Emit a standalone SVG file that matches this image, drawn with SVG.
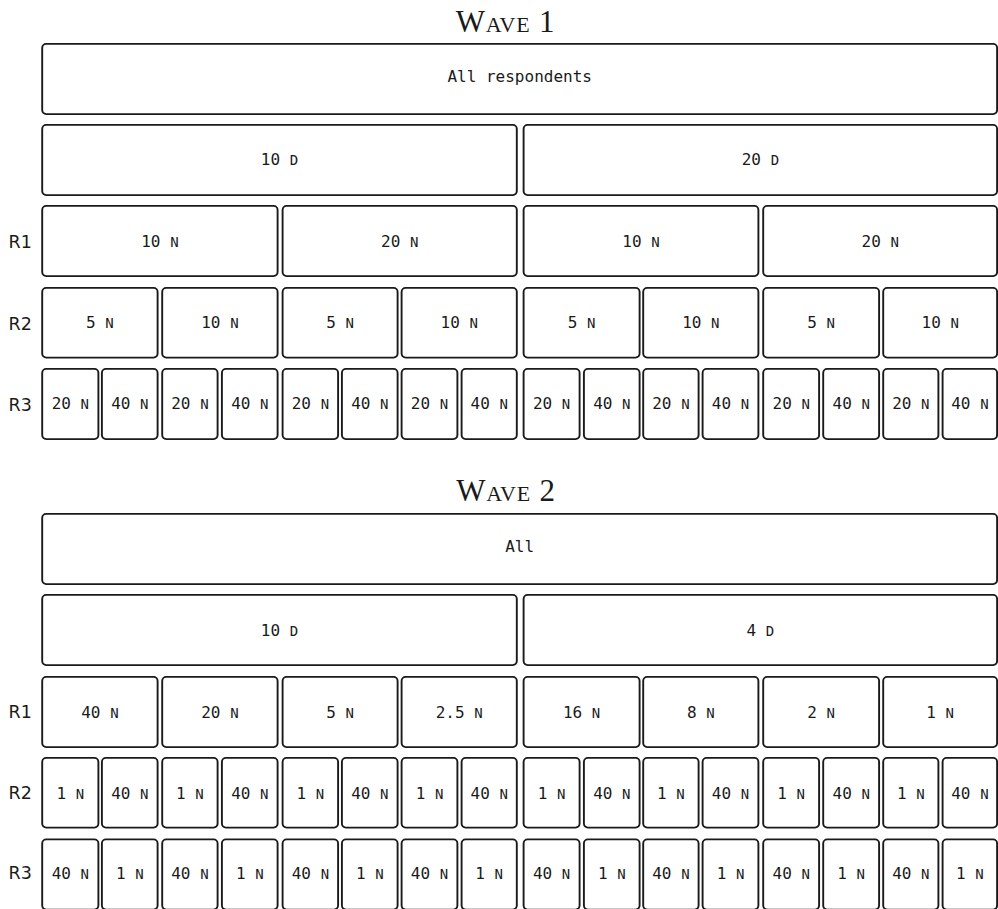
<svg xmlns="http://www.w3.org/2000/svg" width="998" height="909" viewBox="0 0 998 909">
<style>
  .bg { fill: #ffffff; }
  .node rect { fill: #ffffff; stroke: #1a1a1a; stroke-width: 1.9; }
  .node text { font-family: "DejaVu Sans Mono", "Liberation Mono", monospace; font-size: 16px; fill: #1a1a1a; text-anchor: middle; }
  .sc { font-size: 14px; }
  .row { font-family: "DejaVu Sans", "Liberation Sans", sans-serif; font-size: 17.5px; fill: #1a1a1a; }
  .title { font-family: "Liberation Serif", "DejaVu Serif", serif; font-size: 31px; font-variant: small-caps; letter-spacing: 0.8px; fill: #1a1a1a; text-anchor: middle; }
</style>
<rect class="bg" x="0" y="0" width="998" height="909"/>

<g id="titles">
  <text class="title" x="505.5" y="31.5">Wave 1</text>
  <text class="title" x="506" y="500.5">Wave 2</text>
</g>

<g id="row-labels">
  <text class="row" x="8.5" y="248.3">R1</text>
  <text class="row" x="8.5" y="329.5">R2</text>
  <text class="row" x="8.5" y="410.7">R3</text>
  <text class="row" x="8.5" y="718.3">R1</text>
  <text class="row" x="8.5" y="799">R2</text>
  <text class="row" x="8.5" y="878.7">R3</text>
</g>

<!-- ===== WAVE 1 ===== -->
<g id="w1-all" class="node"><rect x="42.2" y="43.9" width="954.9" height="70.2" rx="4"/><text x="519.7" y="82">All respondents</text></g>

<g id="w1-b0" class="node"><rect x="42.2" y="124.9" width="474.6" height="70.2" rx="4"/><text x="279.5" y="164.5">10 <tspan class="sc">D</tspan></text></g>
<g id="w1-b1" class="node"><rect x="523.6" y="124.9" width="473.5" height="70.2" rx="4"/><text x="760.4" y="164.5">20 <tspan class="sc">D</tspan></text></g>

<g id="w1-r1-0" class="node"><rect x="42.2" y="205.9" width="235.4" height="70.2" rx="4"/><text x="159.9" y="246.5">10 <tspan class="sc">N</tspan></text></g>
<g id="w1-r1-1" class="node"><rect x="282.6" y="205.9" width="234.2" height="70.2" rx="4"/><text x="399.7" y="246.5">20 <tspan class="sc">N</tspan></text></g>
<g id="w1-r1-2" class="node"><rect x="523.6" y="205.9" width="234.8" height="70.2" rx="4"/><text x="641" y="246.5">10 <tspan class="sc">N</tspan></text></g>
<g id="w1-r1-3" class="node"><rect x="763.2" y="205.9" width="233.9" height="70.2" rx="4"/><text x="880.2" y="246.5">20 <tspan class="sc">N</tspan></text></g>

<g id="w1-r2-0" class="node"><rect x="42.2" y="287.9" width="115.4" height="69.7" rx="4"/><text x="99.9" y="328.2">5 <tspan class="sc">N</tspan></text></g>
<g id="w1-r2-1" class="node"><rect x="162.2" y="287.9" width="115.4" height="69.7" rx="4"/><text x="219.9" y="328.2">10 <tspan class="sc">N</tspan></text></g>
<g id="w1-r2-2" class="node"><rect x="282.6" y="287.9" width="115" height="69.7" rx="4"/><text x="340.1" y="328.2">5 <tspan class="sc">N</tspan></text></g>
<g id="w1-r2-3" class="node"><rect x="401.6" y="287.9" width="115.2" height="69.7" rx="4"/><text x="459.2" y="328.2">10 <tspan class="sc">N</tspan></text></g>
<g id="w1-r2-4" class="node"><rect x="523.6" y="287.9" width="116" height="69.7" rx="4"/><text x="581.6" y="328.2">5 <tspan class="sc">N</tspan></text></g>
<g id="w1-r2-5" class="node"><rect x="643.2" y="287.9" width="115.2" height="69.7" rx="4"/><text x="700.8" y="328.2">10 <tspan class="sc">N</tspan></text></g>
<g id="w1-r2-6" class="node"><rect x="763.2" y="287.9" width="115.9" height="69.7" rx="4"/><text x="821.2" y="328.2">5 <tspan class="sc">N</tspan></text></g>
<g id="w1-r2-7" class="node"><rect x="883.2" y="287.9" width="113.9" height="69.7" rx="4"/><text x="940.2" y="328.2">10 <tspan class="sc">N</tspan></text></g>

<g id="w1-r3-0" class="node"><rect x="42.2" y="368.9" width="56.2" height="70.2" rx="4"/><text x="70.3" y="408.8">20 <tspan class="sc">N</tspan></text></g>
<g id="w1-r3-1" class="node"><rect x="101.9" y="368.9" width="55.7" height="70.2" rx="4"/><text x="129.8" y="408.8">40 <tspan class="sc">N</tspan></text></g>
<g id="w1-r3-2" class="node"><rect x="162.2" y="368.9" width="55.4" height="70.2" rx="4"/><text x="189.9" y="408.8">20 <tspan class="sc">N</tspan></text></g>
<g id="w1-r3-3" class="node"><rect x="221.9" y="368.9" width="55.7" height="70.2" rx="4"/><text x="249.8" y="408.8">40 <tspan class="sc">N</tspan></text></g>
<g id="w1-r3-4" class="node"><rect x="282.6" y="368.9" width="55.5" height="70.2" rx="4"/><text x="310.4" y="408.8">20 <tspan class="sc">N</tspan></text></g>
<g id="w1-r3-5" class="node"><rect x="341.9" y="368.9" width="55.7" height="70.2" rx="4"/><text x="369.8" y="408.8">40 <tspan class="sc">N</tspan></text></g>
<g id="w1-r3-6" class="node"><rect x="401.6" y="368.9" width="55.8" height="70.2" rx="4"/><text x="429.5" y="408.8">20 <tspan class="sc">N</tspan></text></g>
<g id="w1-r3-7" class="node"><rect x="461.6" y="368.9" width="55.2" height="70.2" rx="4"/><text x="489.2" y="408.8">40 <tspan class="sc">N</tspan></text></g>
<g id="w1-r3-8" class="node"><rect x="523.6" y="368.9" width="56" height="70.2" rx="4"/><text x="551.6" y="408.8">20 <tspan class="sc">N</tspan></text></g>
<g id="w1-r3-9" class="node"><rect x="583.9" y="368.9" width="55.7" height="70.2" rx="4"/><text x="611.8" y="408.8">40 <tspan class="sc">N</tspan></text></g>
<g id="w1-r3-10" class="node"><rect x="643.2" y="368.9" width="55.4" height="70.2" rx="4"/><text x="670.9" y="408.8">20 <tspan class="sc">N</tspan></text></g>
<g id="w1-r3-11" class="node"><rect x="702.6" y="368.9" width="55.8" height="70.2" rx="4"/><text x="730.5" y="408.8">40 <tspan class="sc">N</tspan></text></g>
<g id="w1-r3-12" class="node"><rect x="763.2" y="368.9" width="55.9" height="70.2" rx="4"/><text x="791.2" y="408.8">20 <tspan class="sc">N</tspan></text></g>
<g id="w1-r3-13" class="node"><rect x="823.2" y="368.9" width="55.9" height="70.2" rx="4"/><text x="851.2" y="408.8">40 <tspan class="sc">N</tspan></text></g>
<g id="w1-r3-14" class="node"><rect x="883.2" y="368.9" width="55.2" height="70.2" rx="4"/><text x="910.8" y="408.8">20 <tspan class="sc">N</tspan></text></g>
<g id="w1-r3-15" class="node"><rect x="942.6" y="368.9" width="54.5" height="70.2" rx="4"/><text x="969.9" y="408.8">40 <tspan class="sc">N</tspan></text></g>

<!-- ===== WAVE 2 ===== -->
<g id="w2-all" class="node"><rect x="42.2" y="513.9" width="954.9" height="70.2" rx="4"/><text x="519.7" y="552">All</text></g>

<g id="w2-b0" class="node"><rect x="42.2" y="594.9" width="474.6" height="70.2" rx="4"/><text x="279.5" y="635.5">10 <tspan class="sc">D</tspan></text></g>
<g id="w2-b1" class="node"><rect x="523.6" y="594.9" width="473.5" height="70.2" rx="4"/><text x="760.4" y="635.5">4 <tspan class="sc">D</tspan></text></g>

<g id="w2-r1-0" class="node"><rect x="42.2" y="676.9" width="115.4" height="70.2" rx="4"/><text x="99.9" y="717.5">40 <tspan class="sc">N</tspan></text></g>
<g id="w2-r1-1" class="node"><rect x="162.2" y="676.9" width="115.4" height="70.2" rx="4"/><text x="219.9" y="717.5">20 <tspan class="sc">N</tspan></text></g>
<g id="w2-r1-2" class="node"><rect x="282.6" y="676.9" width="115" height="70.2" rx="4"/><text x="340.1" y="717.5">5 <tspan class="sc">N</tspan></text></g>
<g id="w2-r1-3" class="node"><rect x="401.6" y="676.9" width="115.2" height="70.2" rx="4"/><text x="459.2" y="717.5">2.5 <tspan class="sc">N</tspan></text></g>
<g id="w2-r1-4" class="node"><rect x="523.6" y="676.9" width="116" height="70.2" rx="4"/><text x="581.6" y="717.5">16 <tspan class="sc">N</tspan></text></g>
<g id="w2-r1-5" class="node"><rect x="643.2" y="676.9" width="115.2" height="70.2" rx="4"/><text x="700.8" y="717.5">8 <tspan class="sc">N</tspan></text></g>
<g id="w2-r1-6" class="node"><rect x="763.2" y="676.9" width="115.9" height="70.2" rx="4"/><text x="821.2" y="717.5">2 <tspan class="sc">N</tspan></text></g>
<g id="w2-r1-7" class="node"><rect x="883.2" y="676.9" width="113.9" height="70.2" rx="4"/><text x="940.2" y="717.5">1 <tspan class="sc">N</tspan></text></g>

<g id="w2-r2-0" class="node"><rect x="42.2" y="757.9" width="56.2" height="69.7" rx="4"/><text x="70.3" y="798.5">1 <tspan class="sc">N</tspan></text></g>
<g id="w2-r2-1" class="node"><rect x="101.9" y="757.9" width="55.7" height="69.7" rx="4"/><text x="129.8" y="798.5">40 <tspan class="sc">N</tspan></text></g>
<g id="w2-r2-2" class="node"><rect x="162.2" y="757.9" width="55.4" height="69.7" rx="4"/><text x="189.9" y="798.5">1 <tspan class="sc">N</tspan></text></g>
<g id="w2-r2-3" class="node"><rect x="221.9" y="757.9" width="55.7" height="69.7" rx="4"/><text x="249.8" y="798.5">40 <tspan class="sc">N</tspan></text></g>
<g id="w2-r2-4" class="node"><rect x="282.6" y="757.9" width="55.5" height="69.7" rx="4"/><text x="310.4" y="798.5">1 <tspan class="sc">N</tspan></text></g>
<g id="w2-r2-5" class="node"><rect x="341.9" y="757.9" width="55.7" height="69.7" rx="4"/><text x="369.8" y="798.5">40 <tspan class="sc">N</tspan></text></g>
<g id="w2-r2-6" class="node"><rect x="401.6" y="757.9" width="55.8" height="69.7" rx="4"/><text x="429.5" y="798.5">1 <tspan class="sc">N</tspan></text></g>
<g id="w2-r2-7" class="node"><rect x="461.6" y="757.9" width="55.2" height="69.7" rx="4"/><text x="489.2" y="798.5">40 <tspan class="sc">N</tspan></text></g>
<g id="w2-r2-8" class="node"><rect x="523.6" y="757.9" width="56" height="69.7" rx="4"/><text x="551.6" y="798.5">1 <tspan class="sc">N</tspan></text></g>
<g id="w2-r2-9" class="node"><rect x="583.9" y="757.9" width="55.7" height="69.7" rx="4"/><text x="611.8" y="798.5">40 <tspan class="sc">N</tspan></text></g>
<g id="w2-r2-10" class="node"><rect x="643.2" y="757.9" width="55.4" height="69.7" rx="4"/><text x="670.9" y="798.5">1 <tspan class="sc">N</tspan></text></g>
<g id="w2-r2-11" class="node"><rect x="702.6" y="757.9" width="55.8" height="69.7" rx="4"/><text x="730.5" y="798.5">40 <tspan class="sc">N</tspan></text></g>
<g id="w2-r2-12" class="node"><rect x="763.2" y="757.9" width="55.9" height="69.7" rx="4"/><text x="791.2" y="798.5">1 <tspan class="sc">N</tspan></text></g>
<g id="w2-r2-13" class="node"><rect x="823.2" y="757.9" width="55.9" height="69.7" rx="4"/><text x="851.2" y="798.5">40 <tspan class="sc">N</tspan></text></g>
<g id="w2-r2-14" class="node"><rect x="883.2" y="757.9" width="55.2" height="69.7" rx="4"/><text x="910.8" y="798.5">1 <tspan class="sc">N</tspan></text></g>
<g id="w2-r2-15" class="node"><rect x="942.6" y="757.9" width="54.5" height="69.7" rx="4"/><text x="969.9" y="798.5">40 <tspan class="sc">N</tspan></text></g>

<g id="w2-r3-0" class="node"><rect x="42.2" y="839.4" width="56.2" height="70.2" rx="4"/><text x="70.3" y="878.5">40 <tspan class="sc">N</tspan></text></g>
<g id="w2-r3-1" class="node"><rect x="101.9" y="839.4" width="55.7" height="70.2" rx="4"/><text x="129.8" y="878.5">1 <tspan class="sc">N</tspan></text></g>
<g id="w2-r3-2" class="node"><rect x="162.2" y="839.4" width="55.4" height="70.2" rx="4"/><text x="189.9" y="878.5">40 <tspan class="sc">N</tspan></text></g>
<g id="w2-r3-3" class="node"><rect x="221.9" y="839.4" width="55.7" height="70.2" rx="4"/><text x="249.8" y="878.5">1 <tspan class="sc">N</tspan></text></g>
<g id="w2-r3-4" class="node"><rect x="282.6" y="839.4" width="55.5" height="70.2" rx="4"/><text x="310.4" y="878.5">40 <tspan class="sc">N</tspan></text></g>
<g id="w2-r3-5" class="node"><rect x="341.9" y="839.4" width="55.7" height="70.2" rx="4"/><text x="369.8" y="878.5">1 <tspan class="sc">N</tspan></text></g>
<g id="w2-r3-6" class="node"><rect x="401.6" y="839.4" width="55.8" height="70.2" rx="4"/><text x="429.5" y="878.5">40 <tspan class="sc">N</tspan></text></g>
<g id="w2-r3-7" class="node"><rect x="461.6" y="839.4" width="55.2" height="70.2" rx="4"/><text x="489.2" y="878.5">1 <tspan class="sc">N</tspan></text></g>
<g id="w2-r3-8" class="node"><rect x="523.6" y="839.4" width="56" height="70.2" rx="4"/><text x="551.6" y="878.5">40 <tspan class="sc">N</tspan></text></g>
<g id="w2-r3-9" class="node"><rect x="583.9" y="839.4" width="55.7" height="70.2" rx="4"/><text x="611.8" y="878.5">1 <tspan class="sc">N</tspan></text></g>
<g id="w2-r3-10" class="node"><rect x="643.2" y="839.4" width="55.4" height="70.2" rx="4"/><text x="670.9" y="878.5">40 <tspan class="sc">N</tspan></text></g>
<g id="w2-r3-11" class="node"><rect x="702.6" y="839.4" width="55.8" height="70.2" rx="4"/><text x="730.5" y="878.5">1 <tspan class="sc">N</tspan></text></g>
<g id="w2-r3-12" class="node"><rect x="763.2" y="839.4" width="55.9" height="70.2" rx="4"/><text x="791.2" y="878.5">40 <tspan class="sc">N</tspan></text></g>
<g id="w2-r3-13" class="node"><rect x="823.2" y="839.4" width="55.9" height="70.2" rx="4"/><text x="851.2" y="878.5">1 <tspan class="sc">N</tspan></text></g>
<g id="w2-r3-14" class="node"><rect x="883.2" y="839.4" width="55.2" height="70.2" rx="4"/><text x="910.8" y="878.5">40 <tspan class="sc">N</tspan></text></g>
<g id="w2-r3-15" class="node"><rect x="942.6" y="839.4" width="54.5" height="70.2" rx="4"/><text x="969.9" y="878.5">1 <tspan class="sc">N</tspan></text></g>

<g id="connectors"></g>
</svg>
